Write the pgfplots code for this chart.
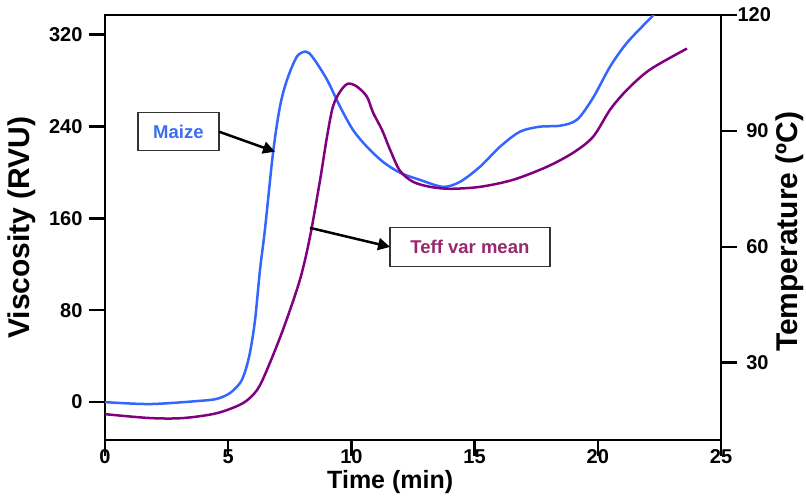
\documentclass[border=0pt]{standalone}
\usepackage{pgfplots}
\pgfplotsset{compat=1.18}
\usepackage{fontspec}
\setmainfont{Liberation Sans}
\usetikzlibrary{arrows.meta}
\definecolor{maize}{RGB}{51,102,255}
\definecolor{teff}{RGB}{128,0,128}
\definecolor{maizetxt}{RGB}{60,110,240}
\definecolor{tefftxt}{RGB}{150,40,110}

\pgfplotstableread{
t v
0 0
1.83 -1.7
3.86 1.1
4.55 2.9
5.07 7.8
5.48 16.6
5.68 26.2
5.88 42.7
6.09 71.5
6.29 115.1
6.49 150.0
6.82 217.1
7.10 257.2
7.39 280.7
7.79 300.8
8.16 305.1
8.44 299.9
9.01 280.7
9.54 257.2
10.06 237.1
10.63 222.3
11.28 209.2
11.97 199.7
12.78 193.5
13.72 187.4
14.41 191.8
15.22 204.9
16.03 222.3
16.84 235.4
17.65 239.8
18.47 240.6
19.16 245.9
19.81 265.0
20.50 292.1
21.19 313.0
22.20 335.7
22.44 341.8
}\maize

\pgfplotstableread{
t v
0 -10.5
1.83 -13.9
3.17 -13.9
4.55 -9.6
5.60 -0.9
6.17 10.5
6.57 27.9
7.22 62.8
7.91 106.4
8.32 143.9
8.73 193.5
9.01 231.0
9.25 257.2
9.54 270.3
9.86 277.2
10.23 274.6
10.63 265.9
10.88 252.0
11.24 237.1
11.57 219.7
11.97 201.4
12.50 191.8
13.19 187.4
14.00 185.7
15.22 187.4
16.56 193.5
17.94 204.9
19.00 217.1
19.81 231.0
20.50 254.6
21.19 272.0
22.12 289.5
23.62 307.8
}\teff

\begin{document}
\begin{tikzpicture}
\begin{axis}[
  at={(0pt,0pt)}, anchor=south west, scale only axis,
  width=616pt, height=425pt,
  xmin=0, xmax=25, ymin=-33, ymax=337,
  xtick={0,5,10,15,20,25}, ytick={0,80,160,240,320},
  xtick pos=bottom, ytick pos=left, tick align=outside,
  major tick length=16pt,
  axis line style={line width=2.5pt},
  every tick/.style={black, line width=2.5pt},
  /pgf/number format/assume math mode=true,
  tick label style={font=\bfseries\fontsize{20}{24}\selectfont},
  xticklabel style={yshift=10pt},
  yticklabel style={xshift=-3pt},
  xlabel={Time (min)}, ylabel={Viscosity (RVU)},
  xlabel style={font=\bfseries\fontsize{25}{29}\selectfont, at={(axis description cs:0.463,-0.099)}, anchor=center},
  ylabel style={font=\bfseries\fontsize{30}{34}\selectfont, at={(axis description cs:-0.135,0.5)}, anchor=center, rotate=0},
]
\addplot[maize, line width=2.5pt, smooth] table[x=t, y=v] {\maize};
\addplot[teff, line width=2.5pt, smooth] table[x=t, y=v] {\teff};
\node[draw=black!80, line width=1.2pt, minimum width=81pt, minimum height=38pt, text=maizetxt, font=\bfseries\fontsize{18.5}{22}\selectfont] at (axis cs:2.98,235.4) {Maize};
\node[draw=black!80, line width=1.2pt, minimum width=160pt, minimum height=39pt, text=tefftxt, font=\bfseries\fontsize{18.5}{22}\selectfont] at (axis cs:14.81,134.7) {Teff var mean};
\draw[line width=2.5pt, -{Triangle[length=12pt,width=12pt]}] (axis cs:4.63,235.4) -- (axis cs:6.90,218);
\draw[line width=2.5pt, -{Triangle[length=12pt,width=12pt]}] (axis cs:8.32,151.7) -- (axis cs:11.57,135.1);
\end{axis}
\begin{axis}[
  at={(0pt,0pt)}, anchor=south west, scale only axis,
  width=616pt, height=425pt,
  xmin=0, xmax=25, ymin=10, ymax=120,
  axis x line=none, axis y line*=right,
  ytick={30,60,90,120}, tick align=outside,
  major tick length=16pt,
  axis line style={line width=2.5pt, -},
  every tick/.style={black, line width=2.5pt},
  /pgf/number format/assume math mode=true,
  tick label style={font=\bfseries\fontsize{20}{24}\selectfont},
  yticklabel style={text width=31pt, align=right, anchor=west, xshift=-3pt},
  ylabel={Temperature (ºC)},
  ylabel style={font=\bfseries\fontsize{30}{34}\selectfont, at={(axis description cs:1.112,0.49)}, anchor=center, rotate=0},
]
\end{axis}
\pgfresetboundingbox
\path[use as bounding box] (-105pt,-56pt) rectangle (701pt,440pt);
\end{tikzpicture}
\end{document}
